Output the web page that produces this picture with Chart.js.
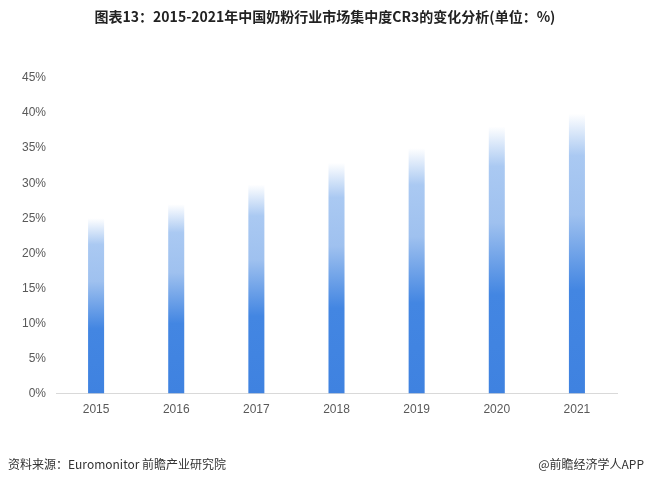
<!DOCTYPE html>
<html>
<head>
<meta charset="utf-8">
<script src="https://cdn.jsdelivr.net/npm/chart.js@4.4.1/dist/chart.umd.min.js"></script>
<style>
  html, body { margin: 0; padding: 0; background: #fff; }
  #wrap { position: relative; width: 650px; height: 482px; }
  .title { position: absolute; left: 0; width: 650px; top: 6px; text-align: center;
           font: bold 14px "Noto Sans CJK SC", sans-serif; color: #222; }
  .foot { position: absolute; top: 455px; font: 12px "Noto Sans CJK SC", "Liberation Sans", sans-serif; color: #333; }
</style>
</head>
<body>
<div id="wrap">
  <canvas id="chart" width="650" height="482"></canvas>
  <div class="title">图表13：2015-2021年中国奶粉行业市场集中度CR3的变化分析(单位：%)</div>
  <div class="foot" style="left:8px;">资料来源：Euromonitor 前瞻产业研究院</div>
  <div class="foot" style="right:6px;">@前瞻经济学人APP</div>
</div>
<script>
// years and CR3 share (%)
const years = ['2015', '2016', '2017', '2018', '2019', '2020', '2021'];
const cr3 = [25.0, 27.0, 29.8, 32.9, 35.0, 38.1, 39.9];
const yTicks = [0, 5, 10, 15, 20, 25, 30, 35, 40, 45];

//each bar fades from white at the top to solid blue at the base
function barGradient(context) {
    const chart = context.chart;
    if (!chart.chartArea) return '#4285e0';
    const y = chart.scales.y;
    const top = y.getPixelForValue(context.raw);
    const base = y.getPixelForValue(0);
    const g = chart.ctx.createLinearGradient(0, top, 0, base);
    g.addColorStop(0, 'rgba(255,255,255,1)');
    g.addColorStop(0.15, '#aac9f2');
    g.addColorStop(0.36, '#9fc1ef');
    g.addColorStop(0.63, '#4386e2');
    g.addColorStop(1, '#3f82e0');
    return g;
}

new Chart(document.getElementById('chart').getContext('2d'), {
    type: 'bar',
    data: {
        labels: years,
        datasets: [{
            label: 'CR3',
            data: cr3,
            backgroundColor: barGradient,
            borderWidth: 0,
            barPercentage: 0.5,
            categoryPercentage: 0.4
        }]
    },
    options: {
        responsive: false,
        animation: false,
        layout: { padding: { left: 20, right: 33, top: 78, bottom: 64 } },
        plugins: {
            legend: { display: false },
            tooltip: { enabled: false },
            title: { display: false }
        },
        scales: {
            x: {
                grid: { display: false },
                border: { display: true, color: '#d9d9d9', width: 1 },
                ticks: { color: '#595959', font: { family: '"Liberation Sans", sans-serif', size: 12 }, padding: 1 }
            },
            y: {
                min: 0,
                max: 45,
                afterBuildTicks: axis => { axis.ticks = yTicks.map(v => ({ value: v })); },
                grid: { display: false },
                border: { display: false },
                ticks: {
                    color: '#595959',
                    padding: 2,
                    font: { family: '"Liberation Sans", sans-serif', size: 12 },
                    callback: v => v + '%'
                }
            }
        }
    }
});
</script>
</body>
</html>
